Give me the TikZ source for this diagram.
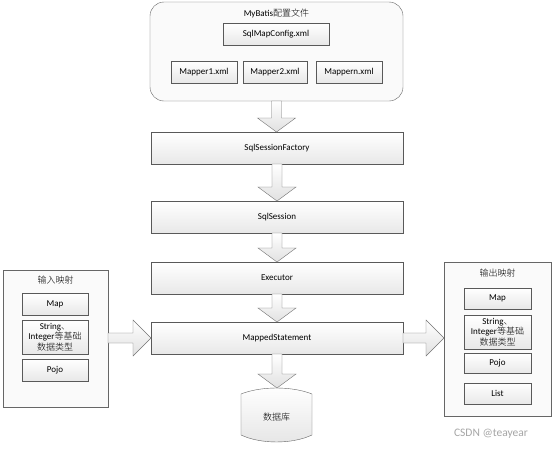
\documentclass[tikz,border=0pt]{standalone}
\usepackage{fontspec}
\setmainfont{Carlito}
\newfontfamily\cjk{Noto Sans CJK SC Light}
\usetikzlibrary{calc,shadows}
\tikzset{
  box/.style={draw=black!65,top color=white,bottom color=black!9,inner sep=1pt,outer sep=0pt,
    align=center,font=\fontsize{9}{10.5}\selectfont},
  stage/.style={box,minimum width=252pt,minimum height=32pt,
    drop shadow={shadow xshift=1pt,shadow yshift=-1pt,opacity=0.2}},
  item/.style={box,minimum height=22pt},
  frame/.style={draw=black!60,fill=black!2,outer sep=0pt},
  caption/.style={font=\fontsize{9}{10.5}\selectfont},
  fatarrow/.style={draw=black!55,top color=white,bottom color=black!12},
  dbshape/.style={draw=black!60,top color=white,bottom color=black!10}
}
% vertical block arrow, from the first point down to the second
\newcommand{\downblock}[2]{%
  \draw[fatarrow] let \p1=#1, \p2=#2 in
    (\x1-5pt,\y1) -- (\x1-5pt,\y2+14pt) -- (\x1-19pt,\y2+14pt) -- (\x1,\y2)
    -- (\x1+19pt,\y2+14pt) -- (\x1+5pt,\y2+14pt) -- (\x1+5pt,\y1) -- cycle;}
% horizontal block arrow, from the first point right to the second
\newcommand{\rightblock}[2]{%
  \draw[fatarrow] let \p1=#1, \p2=#2 in
    (\x1,\y1+5pt) -- (\x2-18pt,\y1+5pt) -- (\x2-18pt,\y1+18pt) -- (\x2,\y1)
    -- (\x2-18pt,\y1-18pt) -- (\x2-18pt,\y1-5pt) -- (\x1,\y1-5pt) -- cycle;}

\begin{document}
\begin{tikzpicture}[x=1pt,y=-1pt]
  \fill[white] (0,0) rectangle (553,455);
  \useasboundingbox (0,0) rectangle (553,455);

  % configuration files
  \node[frame,rounded corners=14pt,minimum width=253pt,minimum height=99pt] (cfg) at (276.5,51.5) {};
  \node[caption] (cfgtitle) at (276.5,13) {MyBatis{\cjk 配置文件}};
  \node[item,minimum width=106pt] (sqlmap) at (276,34) {SqlMapConfig.xml};
  \node[item,minimum width=66pt] (mapper1) at (204,72) {Mapper1.xml};
  \node[item,minimum width=64pt] (mapper2) at (275,72) {Mapper2.xml};
  \node[item,minimum width=66pt] (mappern) at (349,72) {Mappern.xml};

  % main chain
  \node[stage] (factory) at (277,148) {SqlSessionFactory};
  \node[stage] (session) at (277,217) {SqlSession};
  \node[stage] (executor) at (277,278) {Executor};
  \node[stage] (ms) at (277,338) {MappedStatement};

  % database
  \node[inner sep=0pt,outer sep=0pt,minimum width=71pt,minimum height=54pt] (db) at (276.5,415) {};
  \draw[dbshape] ($(db.north west)+(0,6)$) .. controls ($(db.north west)+(20,-2)$) and ($(db.north east)+(-20,-2)$) .. ($(db.north east)+(0,6)$)
    -- ($(db.south east)+(0,-7)$) .. controls ($(db.south east)+(-20,2.3)$) and ($(db.south west)+(20,2.3)$) .. ($(db.south west)+(0,-7)$) -- cycle;
  \node[caption] (dbtext) at (276.5,417) {\cjk 数据库};

  % input mapping
  \node[frame,minimum width=105pt,minimum height=137pt] (inmap) at (55.5,338.5) {};
  \node[caption] (intitle) at (55.5,280) {\cjk 输入映射};
  \node[item,minimum width=66pt] (inmapitem) at (55,304) {Map};
  \node[item,minimum width=66pt,minimum height=34pt] (inbasic) at (55,337) {String{\cjk 、}\\Integer{\cjk 等基础}\\{\cjk 数据类型}};
  \node[item,minimum width=66pt] (inpojo) at (55,370) {Pojo};

  % output mapping
  \node[frame,minimum width=107pt,minimum height=154pt] (outmap) at (497.5,339) {};
  \node[caption] (outtitle) at (497.5,273) {\cjk 输出映射};
  \node[item,minimum width=67pt,minimum height=21pt] (outmapitem) at (497.5,298.5) {Map};
  \node[item,minimum width=67pt,minimum height=34pt] (outbasic) at (497.5,332) {String{\cjk 、}\\Integer{\cjk 等基础}\\{\cjk 数据类型}};
  \node[item,minimum width=67pt,minimum height=20pt] (outpojo) at (497.5,363.5) {Pojo};
  \node[item,minimum width=67pt,minimum height=21pt] (outlist) at (497.5,393.5) {List};

  % block arrows
  \downblock{(cfg.south)}{(factory.north)}
  \downblock{(factory.south)}{(session.north)}
  \downblock{(session.south)}{(executor.north)}
  \downblock{(executor.south)}{(ms.north)}
  \downblock{(ms.south)}{(db.north)}
  \rightblock{(inmap.east |- ms.west)}{(ms.west)}
  \rightblock{(ms.east)}{(outmap.west |- ms.east)}

  \node[text=black!35,font=\fontsize{11.5}{13}\selectfont] (mark) at (491,434) {CSDN @teayear};
\end{tikzpicture}
\end{document}
